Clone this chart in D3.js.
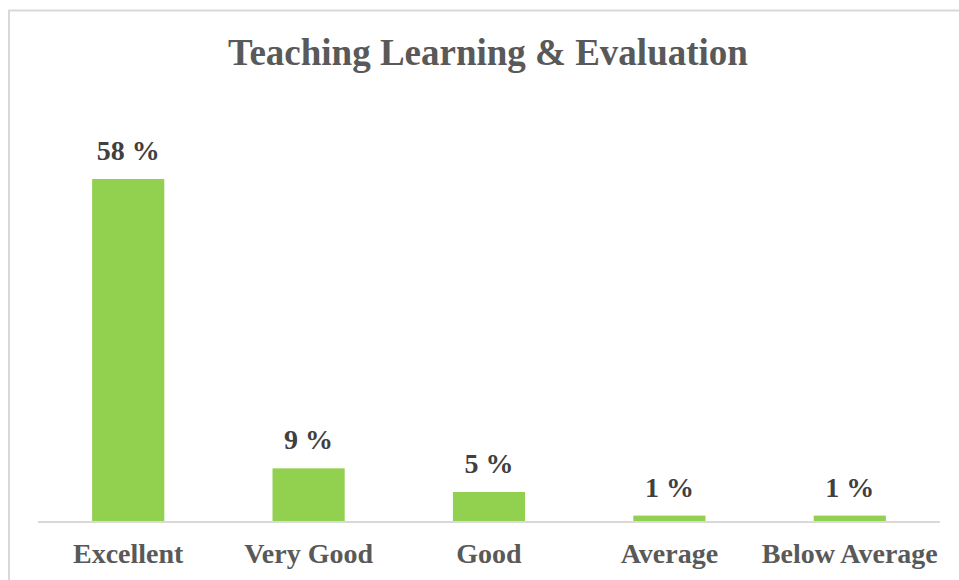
<!DOCTYPE html>
<html><head><meta charset="utf-8">
<script src="https://cdn.jsdelivr.net/npm/d3@7"></script>
<style>html,body{margin:0;padding:0;background:#fff;}svg{display:block;}</style>
</head><body>
<script>
const categories = ["Excellent", "Very Good", "Good", "Average", "Below Average"];
const values = [58, 9, 5, 1, 1];
const title = "Teaching Learning & Evaluation";

const W = 959, H = 580;
const svg = d3.select("body").append("svg").attr("width", W).attr("height", H);

// chart frame
svg.append("path").attr("d", "M9,580 L9,10.5 L959,10.5")
  .attr("fill", "none").attr("stroke", "#d9d9d9").attr("stroke-width", 2);

const font = "'Liberation Serif','Times New Roman',serif";
svg.append("text").attr("x", 488).attr("y", 65).attr("text-anchor", "middle")
  .attr("font-family", font).attr("font-weight", "bold").attr("font-size", 37)
  .attr("fill", "#595959").text(title);

const x = d3.scaleBand().domain(categories).range([38, 940]).paddingInner(0.6).paddingOuter(0.3);
const y = d3.scaleLinear().domain([0, 58]).range([521.5, 179]);

svg.selectAll("rect.bar").data(values).join("rect").attr("class", "bar")
  .attr("x", (d, i) => x(categories[i]))
  .attr("width", x.bandwidth())
  .attr("y", d => y(d))
  .attr("height", d => y(0) - y(d))
  .attr("fill", "#92d050");

const axis = d3.axisBottom(x).tickSize(0).tickPadding(0);
const g = svg.append("g").attr("transform", `translate(0,${y(0)})`).call(axis);
g.select(".domain").attr("stroke", "#d9d9d9").attr("stroke-width", 2).attr("d", "M38,0.5H940");
g.selectAll(".tick text").attr("y", 41).attr("dy", 0)
  .attr("font-family", font).attr("font-weight", "bold").attr("font-size", 28)
  .attr("fill", "#595959");

svg.selectAll("text.lbl").data(values).join("text").attr("class", "lbl")
  .attr("x", (d, i) => x(categories[i]) + x.bandwidth() / 2)
  .attr("y", d => y(d) - 19)
  .attr("text-anchor", "middle")
  .attr("font-family", font).attr("font-weight", "bold").attr("font-size", 28)
  .attr("fill", "#404040").text(d => d + " %");
</script>
</body></html>
